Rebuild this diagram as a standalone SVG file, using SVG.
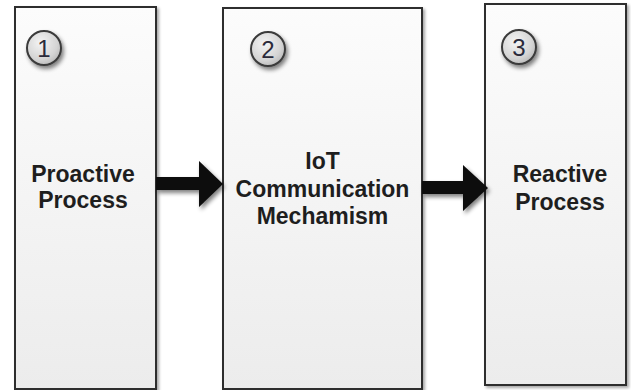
<svg xmlns="http://www.w3.org/2000/svg" width="631" height="390" viewBox="0 0 631 390">
<defs>
  <linearGradient id="boxg" x1="0" y1="0" x2="0" y2="1">
    <stop offset="0" stop-color="#fcfcfc"/>
    <stop offset="1" stop-color="#ececec"/>
  </linearGradient>
  <radialGradient id="circg" cx="0.4" cy="0.35" r="0.7">
    <stop offset="0" stop-color="#f4f4f4"/>
    <stop offset="0.7" stop-color="#d4d4d4"/>
    <stop offset="1" stop-color="#b8b8b8"/>
  </radialGradient>
  <filter id="sh" x="-20%" y="-20%" width="140%" height="140%">
    <feGaussianBlur in="SourceAlpha" stdDeviation="1.5"/>
    <feOffset dx="2" dy="2" result="b"/>
    <feComponentTransfer><feFuncA type="linear" slope="0.35"/></feComponentTransfer>
    <feMerge><feMergeNode/><feMergeNode in="SourceGraphic"/></feMerge>
  </filter>
  <filter id="sh2" x="-40%" y="-40%" width="180%" height="180%">
    <feGaussianBlur in="SourceAlpha" stdDeviation="2"/>
    <feOffset dx="2" dy="3" result="b"/>
    <feComponentTransfer><feFuncA type="linear" slope="0.5"/></feComponentTransfer>
    <feMerge><feMergeNode/><feMergeNode in="SourceGraphic"/></feMerge>
  </filter>
</defs>
<style>
  .box { fill: url(#boxg); stroke: #2e2e2e; stroke-width: 2; }
  .num { fill: url(#circg); stroke: #3a3a3a; stroke-width: 2; }
  .numt { font-family: "Liberation Sans", Arial, sans-serif; font-size: 24px; fill: #2a2a3a; text-anchor: middle; }
  .lbl { font-family: "Liberation Sans", Arial, sans-serif; font-size: 23px; font-weight: bold; fill: #1e1e1e; text-anchor: middle; }
  .arrow { fill: #0a0a0a; }
</style>
<g id="node1">
  <rect class="box" x="15" y="7" width="141" height="382" filter="url(#sh)"/>
  <circle class="num" cx="44" cy="48" r="17" filter="url(#sh2)"/>
  <text class="numt" x="44" y="56.5">1</text>
  <text class="lbl" x="83" y="182">Proactive</text>
  <text class="lbl" x="83" y="208">Process</text>
</g>
<g id="node2">
  <rect class="box" x="223" y="8" width="199" height="381" filter="url(#sh)"/>
  <circle class="num" cx="268" cy="49" r="17" filter="url(#sh2)"/>
  <text class="numt" x="268" y="57.5">2</text>
  <text class="lbl" x="322.5" y="169">IoT</text>
  <text class="lbl" x="322.5" y="196.5">Communication</text>
  <text class="lbl" x="322.5" y="224">Mechamism</text>
</g>
<g id="node3">
  <rect class="box" x="485" y="4" width="141" height="381" filter="url(#sh)"/>
  <circle class="num" cx="519" cy="47" r="17" filter="url(#sh2)"/>
  <text class="numt" x="519" y="55.5">3</text>
  <text class="lbl" x="560" y="182">Reactive</text>
  <text class="lbl" x="560" y="210">Process</text>
</g>
<g id="connectors">
  <path class="arrow" filter="url(#sh2)" d="M156,177 L199,177 L199,161 L223,184 L199,207 L199,190 L156,190 Z"/>
  <path class="arrow" filter="url(#sh2)" d="M422,181 L463,181 L463,165 L488,188 L463,211 L463,194 L422,194 Z"/>
</g>
</svg>
